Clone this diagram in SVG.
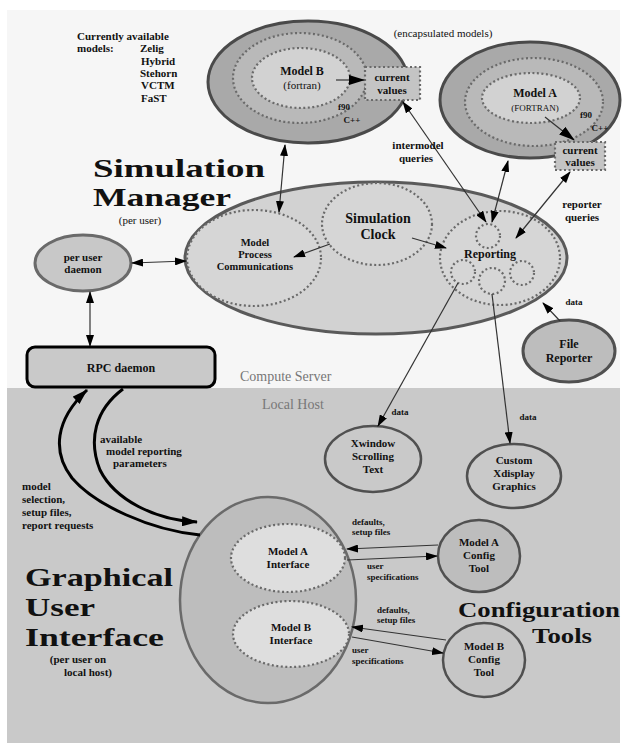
<svg xmlns="http://www.w3.org/2000/svg" width="624" height="746" viewBox="0 0 624 746">
<defs>
<style>
text{font-family:"Liberation Serif","DejaVu Serif",serif;font-weight:bold;fill:#111;text-anchor:middle}
.s{font-size:11px}
.m{font-size:12px}
.mp{font-size:10.5px}
.t{font-size:14px}
.big{font-size:26px;text-anchor:start}
.gui{font-size:26px;text-anchor:start}
.cfg{font-size:22px}
.zone{font-size:14px;font-weight:normal;fill:#777;text-anchor:start}
.dot{stroke:#6a6a6a;stroke-width:2.2;stroke-dasharray:2 2.5}
.ln{stroke:#333;stroke-width:1.2;fill:none}
.thick{stroke:#000;stroke-width:3;fill:none}
</style>
<marker id="ah" viewBox="0 0 12 8" refX="11" refY="4" markerWidth="12" markerHeight="8" markerUnits="userSpaceOnUse" orient="auto-start-reverse">
<path d="M0,0 L12,4 L0,8 z" fill="#000"/>
</marker>
<marker id="ahb" viewBox="0 0 16 10" refX="15" refY="5" markerWidth="16" markerHeight="10" markerUnits="userSpaceOnUse" orient="auto-start-reverse">
<path d="M0,0 L16,5 L0,10 z" fill="#000"/>
</marker>
</defs>

<!-- backgrounds -->
<rect x="0" y="0" width="624" height="746" fill="#ffffff"/>
<rect x="7" y="10" width="613" height="378" fill="#f6f6f6"/>
<rect x="7" y="388" width="613" height="355" fill="#c9c9c9"/>
<text class="zone" x="240" y="381">Compute Server</text>
<text class="zone" x="262" y="409">Local Host</text>

<!-- titles -->
<g id="title-sim">
<text class="big" x="93" y="177" textLength="172" lengthAdjust="spacingAndGlyphs">Simulation</text>
<text class="big" x="93" y="206" textLength="138" lengthAdjust="spacingAndGlyphs">Manager</text>
<text class="s" x="140" y="224" style="font-weight:normal">(per user)</text>
</g>
<g id="title-gui">
<text class="gui" x="25" y="586" textLength="148" lengthAdjust="spacingAndGlyphs">Graphical</text>
<text class="gui" x="25" y="616" textLength="70" lengthAdjust="spacingAndGlyphs">User</text>
<text class="gui" x="25" y="646" textLength="139" lengthAdjust="spacingAndGlyphs">Interface</text>
<text class="s" x="78" y="663">(per user on</text>
<text class="s" x="88" y="676">local host)</text>
</g>
<g id="title-cfg">
<text class="cfg" x="539" y="617" textLength="162" lengthAdjust="spacingAndGlyphs">Configuration</text>
<text class="cfg" x="562" y="643" textLength="60" lengthAdjust="spacingAndGlyphs">Tools</text>
</g>
<g id="models-list">
<text class="s" x="77" y="40" style="text-anchor:start">Currently available</text>
<text class="s" x="77" y="52" style="text-anchor:start">models:</text>
<text class="s" x="140" y="52" style="text-anchor:start">Zelig</text>
<text class="s" x="141" y="65" style="text-anchor:start">Hybrid</text>
<text class="s" x="140" y="77" style="text-anchor:start">Stehorn</text>
<text class="s" x="141" y="89" style="text-anchor:start">VCTM</text>
<text class="s" x="141" y="102" style="text-anchor:start">FaST</text>
</g>
<text class="s" x="443" y="37" style="font-weight:normal">(encapsulated models)</text>

<!-- Model B -->
<g id="modelB">
<ellipse cx="308" cy="82" rx="100" ry="61" fill="#a9a9a9" stroke="#4a4a4a" stroke-width="3"/>
<ellipse cx="300" cy="78" rx="67" ry="45" fill="#b9b9b9" class="dot"/>
<ellipse cx="301" cy="78" rx="49" ry="30" fill="#d2d2d2" class="dot"/>
<text class="m" x="302" y="75">Model B</text>
<text class="s" x="302" y="89" style="font-weight:normal">(fortran)</text>
<text class="s" x="344" y="110" style="font-size:9px">f90</text>
<text class="s" x="352" y="123" style="font-size:9px">C++</text>
</g>
<g id="modelB-values">
<rect x="365" y="67" width="55" height="33" fill="#c4c4c4" class="dot"/>
<text class="s" x="392" y="81">current</text>
<text class="s" x="392" y="94">values</text>
</g>

<!-- Model A -->
<g id="modelA">
<ellipse cx="530" cy="100" rx="90" ry="58" fill="#a9a9a9" stroke="#4a4a4a" stroke-width="3"/>
<ellipse cx="534" cy="102" rx="69" ry="44" fill="#b9b9b9" class="dot"/>
<ellipse cx="531" cy="98" rx="49" ry="25" fill="#d2d2d2" class="dot"/>
<text class="m" x="535" y="97">Model A</text>
<text class="s" x="535" y="111" style="font-weight:normal;font-size:9px">(FORTRAN)</text>
<text class="s" x="586" y="118" style="font-size:9px">f90</text>
<text class="s" x="600" y="131" style="font-size:9px">C++</text>
</g>
<g id="modelA-values">
<rect x="555" y="142" width="50" height="28" fill="#c4c4c4" class="dot"/>
<text class="s" x="580" y="154">current</text>
<text class="s" x="580" y="166">values</text>
</g>

<!-- Simulation Manager -->
<g id="sim-manager">
<ellipse cx="376" cy="258" rx="191" ry="76" fill="#d2d2d2" stroke="#5a5a5a" stroke-width="3"/>
</g>
<g id="model-process">
<ellipse cx="254" cy="258" rx="67" ry="48" fill="#d6d6d6" class="dot"/>
<text class="mp" x="255" y="246">Model</text>
<text class="mp" x="255" y="258">Process</text>
<text class="mp" x="255" y="270">Communications</text>
</g>
<g id="sim-clock">
<ellipse cx="377" cy="224" rx="55" ry="41" fill="#d6d6d6" class="dot"/>
<text class="t" x="378" y="223">Simulation</text>
<text class="t" x="378" y="239">Clock</text>
</g>
<g id="reporting">
<ellipse cx="500" cy="258" rx="60" ry="47" fill="#d6d6d6" class="dot"/>
<circle cx="488" cy="236" r="12" fill="#d6d6d6" class="dot" stroke-width="1.5"/>
<circle cx="463" cy="272" r="12" fill="#d6d6d6" class="dot" stroke-width="1.5"/>
<circle cx="492" cy="281" r="13" fill="#d6d6d6" class="dot" stroke-width="1.5"/>
<circle cx="522" cy="273" r="12" fill="#d6d6d6" class="dot" stroke-width="1.5"/>
<text class="m" x="490" y="258">Reporting</text>
</g>

<g id="per-user-daemon">
<ellipse cx="83" cy="263" rx="48" ry="28" fill="#c8c8c8" stroke="#6a6a6a" stroke-width="3"/>
<text class="s" x="83" y="261">per user</text>
<text class="s" x="83" y="273">daemon</text>
</g>
<g id="rpc-daemon">
<rect x="27" y="347" width="188" height="40" rx="8" fill="#c9c9c9" stroke="#000" stroke-width="3"/>
<text class="m" x="121" y="372">RPC daemon</text>
</g>
<g id="file-reporter">
<ellipse cx="569" cy="351" rx="46" ry="31" fill="#bdbdbd" stroke="#505050" stroke-width="3"/>
<text class="m" x="569" y="348">File</text>
<text class="m" x="569" y="362">Reporter</text>
</g>
<g id="xwindow">
<ellipse cx="373" cy="459" rx="48" ry="33" fill="#c9c9c9" stroke="#505050" stroke-width="2.5"/>
<text class="s" x="373" y="447">Xwindow</text>
<text class="s" x="373" y="460">Scrolling</text>
<text class="s" x="373" y="473">Text</text>
</g>
<g id="custom-graphics">
<ellipse cx="514" cy="476" rx="47" ry="32" fill="#c9c9c9" stroke="#505050" stroke-width="2.5"/>
<text class="s" x="514" y="464">Custom</text>
<text class="s" x="514" y="477">Xdisplay</text>
<text class="s" x="514" y="490">Graphics</text>
</g>

<!-- GUI -->
<g id="gui">
<ellipse cx="268" cy="600" rx="88" ry="103" fill="#bdbdbd" stroke="#6a6a6a" stroke-width="2.5"/>
</g>
<g id="modelA-interface">
<ellipse cx="288" cy="558" rx="57" ry="34" fill="#dedede" class="dot"/>
<text class="s" x="288" y="555">Model A</text>
<text class="s" x="288" y="568">Interface</text>
</g>
<g id="modelB-interface">
<ellipse cx="291" cy="634" rx="58" ry="33" fill="#dedede" class="dot"/>
<text class="s" x="291" y="631">Model B</text>
<text class="s" x="291" y="644">Interface</text>
</g>
<g id="modelA-config">
<ellipse cx="479" cy="556" rx="41" ry="36" fill="#bdbdbd" stroke="#505050" stroke-width="2.5"/>
<text class="s" x="479" y="546">Model A</text>
<text class="s" x="479" y="559">Config</text>
<text class="s" x="479" y="572">Tool</text>
</g>
<g id="modelB-config">
<ellipse cx="484" cy="660" rx="41" ry="37" fill="#c6c6c6" stroke="#505050" stroke-width="2.5"/>
<text class="s" x="484" y="650">Model B</text>
<text class="s" x="484" y="663">Config</text>
<text class="s" x="484" y="676">Tool</text>
</g>

<!-- connectors -->
<g id="connectors">
<line class="ln" x1="336" y1="80" x2="364" y2="80" marker-end="url(#ahb)" stroke-width="2"/>
<line class="ln" x1="545" y1="117" x2="574" y2="140" marker-end="url(#ahb)" stroke-width="2"/>
<line class="ln" x1="285" y1="145" x2="279" y2="212" marker-start="url(#ah)" marker-end="url(#ah)"/>
<line class="ln" x1="403" y1="102" x2="486" y2="222" marker-start="url(#ah)" marker-end="url(#ah)"/>
<line class="ln" x1="508" y1="161" x2="492" y2="222" marker-start="url(#ah)" marker-end="url(#ah)"/>
<line class="ln" x1="570" y1="172" x2="516" y2="238" marker-start="url(#ah)" marker-end="url(#ah)"/>
<line class="ln" x1="412" y1="238" x2="446" y2="248" marker-end="url(#ah)"/>
<line class="ln" x1="330" y1="244" x2="294" y2="257" marker-end="url(#ah)"/>
<line class="ln" x1="132" y1="263" x2="186" y2="261" marker-start="url(#ah)" marker-end="url(#ah)"/>
<line class="ln" x1="90" y1="292" x2="90" y2="346" marker-start="url(#ah)" marker-end="url(#ah)"/>
<line class="ln" x1="560" y1="321" x2="543" y2="303" marker-end="url(#ah)"/>
<line class="ln" x1="458" y1="283" x2="378" y2="426" marker-end="url(#ah)"/>
<line class="ln" x1="492" y1="294" x2="510" y2="443" marker-end="url(#ah)"/>
<path class="thick" d="M200,535 C150,530 95,505 72,478 C52,452 55,420 87,390" marker-end="url(#ahb)"/>
<path class="thick" d="M123,389 C95,410 88,440 100,470 C115,500 155,520 197,522" marker-end="url(#ahb)"/>
<line class="ln" x1="438" y1="545" x2="347" y2="549" marker-end="url(#ah)"/>
<line class="ln" x1="347" y1="560" x2="437" y2="556" marker-end="url(#ah)"/>
<line class="ln" x1="446" y1="640" x2="352" y2="627" marker-end="url(#ah)"/>
<line class="ln" x1="352" y1="637" x2="443" y2="653" marker-end="url(#ah)"/>
</g>

<!-- connector labels -->
<g id="labels">
<text class="s" x="418" y="149">intermodel</text>
<text class="s" x="416" y="162">queries</text>
<text class="s" x="582" y="208">reporter</text>
<text class="s" x="582" y="221">queries</text>
<text class="s" x="574" y="305" style="font-size:9px">data</text>
<text class="s" x="400" y="415" style="font-size:9px">data</text>
<text class="s" x="528" y="420" style="font-size:9px">data</text>
<text class="s" x="100" y="443" style="text-anchor:start">available</text>
<text class="s" x="106" y="455" style="text-anchor:start">model reporting</text>
<text class="s" x="113" y="467" style="text-anchor:start">parameters</text>
<text class="s" x="22" y="490" style="text-anchor:start">model</text>
<text class="s" x="22" y="503" style="text-anchor:start">selection,</text>
<text class="s" x="22" y="516" style="text-anchor:start">setup files,</text>
<text class="s" x="22" y="529" style="text-anchor:start">report requests</text>
<text class="s" x="352" y="525" style="text-anchor:start;font-size:9px">defaults,</text>
<text class="s" x="352" y="535" style="text-anchor:start;font-size:9px">setup files</text>
<text class="s" x="367" y="569" style="text-anchor:start;font-size:9px">user</text>
<text class="s" x="367" y="580" style="text-anchor:start;font-size:9px">specifications</text>
<text class="s" x="377" y="613" style="text-anchor:start;font-size:9px">defaults,</text>
<text class="s" x="377" y="623" style="text-anchor:start;font-size:9px">setup files</text>
<text class="s" x="352" y="653" style="text-anchor:start;font-size:9px">user</text>
<text class="s" x="352" y="664" style="text-anchor:start;font-size:9px">specifications</text>
</g>
</svg>
